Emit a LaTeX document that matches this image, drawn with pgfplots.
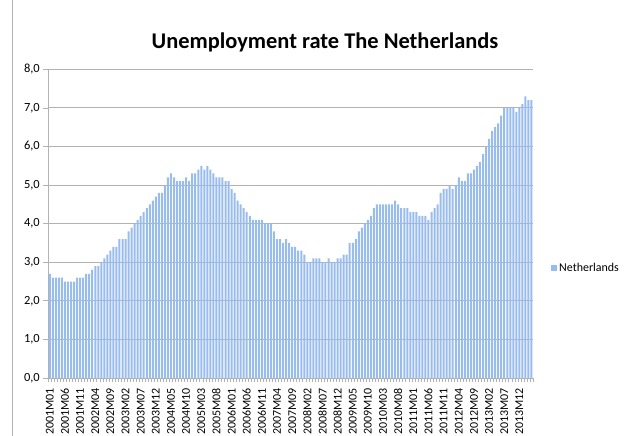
\documentclass[border=0pt]{standalone}
\usepackage{fontspec}
\setmainfont{Carlito}
\usepackage{pgfplots}
\pgfplotsset{compat=1.18}
\usepackage{pgfplotstable}
\definecolor{barblue}{RGB}{152,188,238}
\definecolor{gridgray}{RGB}{178,178,178}
\pgfplotstableread{
k v
0 2.7
1 2.6
2 2.6
3 2.6
4 2.6
5 2.5
6 2.5
7 2.5
8 2.5
9 2.6
10 2.6
11 2.6
12 2.7
13 2.7
14 2.8
15 2.9
16 2.9
17 3.0
18 3.1
19 3.2
20 3.3
21 3.4
22 3.4
23 3.6
24 3.6
25 3.6
26 3.8
27 3.9
28 4.0
29 4.1
30 4.2
31 4.3
32 4.4
33 4.5
34 4.6
35 4.7
36 4.8
37 4.8
38 5.0
39 5.2
40 5.3
41 5.2
42 5.1
43 5.1
44 5.1
45 5.2
46 5.1
47 5.3
48 5.3
49 5.4
50 5.5
51 5.4
52 5.5
53 5.4
54 5.3
55 5.2
56 5.2
57 5.2
58 5.1
59 5.1
60 4.9
61 4.8
62 4.6
63 4.5
64 4.4
65 4.3
66 4.2
67 4.1
68 4.1
69 4.1
70 4.1
71 4.0
72 4.0
73 4.0
74 3.8
75 3.6
76 3.6
77 3.5
78 3.6
79 3.5
80 3.4
81 3.4
82 3.3
83 3.3
84 3.2
85 3.0
86 3.0
87 3.1
88 3.1
89 3.1
90 3.0
91 3.0
92 3.1
93 3.0
94 3.0
95 3.1
96 3.1
97 3.2
98 3.2
99 3.5
100 3.5
101 3.6
102 3.8
103 3.9
104 4.0
105 4.1
106 4.2
107 4.4
108 4.5
109 4.5
110 4.5
111 4.5
112 4.5
113 4.5
114 4.6
115 4.5
116 4.4
117 4.4
118 4.4
119 4.3
120 4.3
121 4.3
122 4.2
123 4.2
124 4.2
125 4.1
126 4.3
127 4.4
128 4.5
129 4.8
130 4.9
131 4.9
132 5.0
133 4.9
134 5.0
135 5.2
136 5.1
137 5.1
138 5.3
139 5.3
140 5.4
141 5.5
142 5.6
143 5.8
144 6.0
145 6.2
146 6.4
147 6.5
148 6.6
149 6.8
150 7.0
151 7.0
152 7.0
153 7.0
154 6.9
155 7.0
156 7.1
157 7.3
158 7.2
159 7.2
}\datatable

\begin{document}
\begin{tikzpicture}[x=1bp,y=1bp]
\useasboundingbox (0,0) rectangle (638,-436);
\draw[gridgray, line width=0.8bp] (12,0) -- (12,-436);
\node[font=\fontsize{22.5}{26}\selectfont\bfseries] at (325,-42) {Unemployment rate The Netherlands};
\begin{axis}[
  at={(48.3bp,-378bp)}, anchor=south west,
  scale only axis, width=484.7bp, height=308.7bp,
  ymin=0, ymax=8, xmin=-0.5, xmax=159.5,
  ytick={0,1,...,8},
  axis x line=bottom, axis y line=left,
  axis line style={-, draw=gridgray, line width=0.9bp},
  ymajorgrids, grid style={gridgray, line width=0.9bp},
  tick align=outside,
  tick style={gridgray, line width=0.7bp},
  major tick length=5bp,
  minor tick length=4bp,
  xtick={0,5,...,155},
  xticklabels={2001M01,2001M06,2001M11,2002M04,2002M09,2003M02,2003M07,2003M12,2004M05,2004M10,2005M03,2005M08,2006M01,2006M06,2006M11,2007M04,2007M09,2008M02,2008M07,2008M12,2009M05,2009M10,2010M03,2010M08,2011M01,2011M06,2011M11,2012M04,2012M09,2013M02,2013M07,2013M12},
  x tick style={draw=none},
  minor xtick={-0.5,0.5,...,159.5},
  minor x tick style={draw=gridgray, line width=0.6bp},
  x tick label style={rotate=90, anchor=east, font=\fontsize{12}{14}\selectfont, inner sep=1bp},
  xticklabel shift=4bp,
  y tick label style={font=\fontsize{12.5}{14}\selectfont},
  /pgf/number format/.cd, fixed, fixed zerofill, precision=1, use comma, assume math mode=true,
  /pgfplots/.cd,
  legend style={at={(1,0.356)}, anchor=west, xshift=18bp, draw=none, fill=none,
    font=\fontsize{12}{14}\selectfont, inner sep=0pt},
  legend image code/.code={\fill[barblue] (0bp,-3bp) rectangle (6bp,3bp);},
]
\addplot[ybar, bar width=2bp, fill=barblue, draw=none] table[x=k, y=v] {\datatable};
\addlegendentry{Netherlands}
\end{axis}
\end{tikzpicture}
\end{document}
